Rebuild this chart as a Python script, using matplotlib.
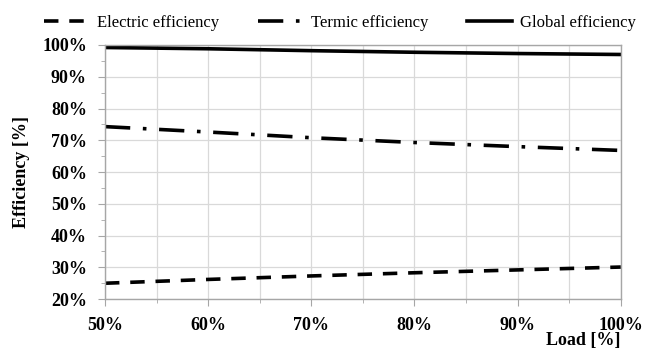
import matplotlib.pyplot as plt
from matplotlib.ticker import MultipleLocator, FuncFormatter

load = [50, 60, 70, 80, 90, 100]
electric = [25.0, 26.2, 27.3, 28.3, 29.2, 30.1]
termic = [74.3, 72.6, 70.8, 69.3, 68.0, 66.8]
global_eff = [99.2, 98.8, 98.2, 97.7, 97.3, 97.0]

plt.rcParams['font.family'] = ['Liberation Serif', 'DejaVu Serif']

fig = plt.figure(figsize=(6.46, 3.54), dpi=100)
ax = fig.add_axes([0.1625, 0.155, 0.7985, 0.718])

ax.plot(load, electric, color='black', lw=2.6, dashes=(4, 3), label='Electric efficiency')
ax.plot(load, termic, color='black', lw=2.6, dashes=(7, 3.5, 1, 3.5), label='Termic efficiency')
ax.plot(load, global_eff, color='black', lw=2.6, label='Global efficiency')

ax.set_xlim(50, 100)
ax.set_ylim(20, 100)
ax.xaxis.set_major_locator(MultipleLocator(10))
ax.xaxis.set_minor_locator(MultipleLocator(5))
ax.yaxis.set_major_locator(MultipleLocator(10))
ax.yaxis.set_minor_locator(MultipleLocator(5))
pct = FuncFormatter(lambda v, p: '%d%%' % v)
ax.xaxis.set_major_formatter(pct)
ax.yaxis.set_major_formatter(pct)

ax.grid(True, which='major', axis='y', color='#d9d9d9', lw=0.9)
ax.grid(True, which='both', axis='x', color='#d9d9d9', lw=0.9)
ax.set_axisbelow(True)
for s in ax.spines.values():
    s.set_color('#a6a6a6')
    s.set_linewidth(1.0)
ax.tick_params(which='both', color='#a6a6a6', direction='out')
ax.tick_params(which='major', length=5, labelsize=13, pad=8)
ax.tick_params(which='minor', length=3)
for t in ax.get_xticklabels() + ax.get_yticklabels():
    t.set_fontweight('bold')

ax.set_ylabel('Efficiency [%]', fontsize=13, fontweight='bold', labelpad=10)
ax.yaxis.set_label_coords(-0.145, 0.5)
fig.text(0.961, 0.015, 'Load [%]', ha='right', va='bottom', fontsize=13, fontweight='bold')

fig.legend(loc='upper center', bbox_to_anchor=(0.526, 1.0), ncol=3, frameon=False,
           fontsize=12, handlelength=2.7, handletextpad=0.5, columnspacing=2.3)

fig.savefig('out.png', dpi=100)
